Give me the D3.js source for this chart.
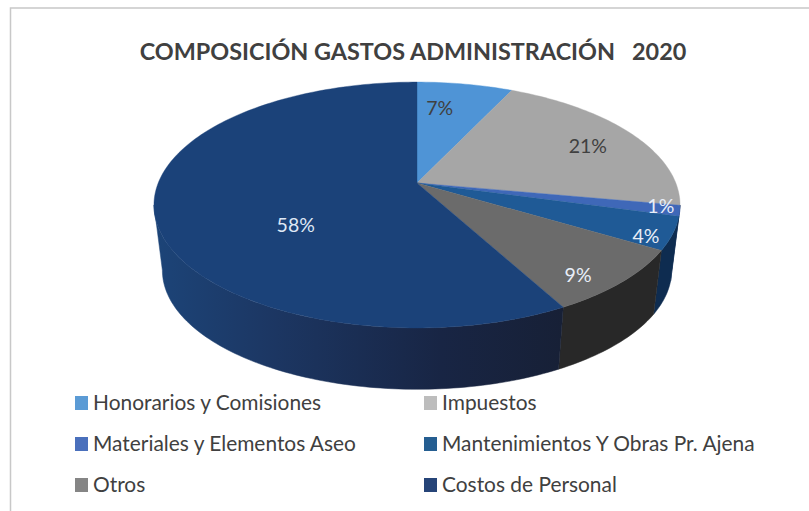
<!DOCTYPE html>
<html>
<head>
<meta charset="utf-8">
<script src="https://cdn.jsdelivr.net/npm/d3@7"></script>
<style>
  html, body { margin: 0; padding: 0; background: #fff; }
  svg { display: block; }
  text { font-family: Lato, "Open Sans", sans-serif; }
</style>
</head>
<body>
<script>
// gastos data
var categories = ["Honorarios y Comisiones", "Impuestos", "Materiales y Elementos Aseo",
                  "Mantenimientos Y Obras Pr. Ajena", "Otros", "Costos de Personal"];
var values = [7.0, 20.9, 1.4, 4.3, 8.5, 57.9];
var faceColors = ["#4f94d6", "#a6a6a6", "#3f68b8", "#1f5a96", "#6b6b6b", "#1b4279"];
var sideColors = ["#2c5a85", "#666666", "#27406f", "#0e2c50", "#282828", "#1a2a4c"];
var legendColors = ["#5b9bd5", "#bdbdbd", "#4a70bc", "#255e91", "#858585", "#264478"];
var labelColors = ["#404040", "#404040", "#e8eef8", "#e8eef8", "#e8eef8", "#dfe8f5"];

var w = 809, h = 511;

var svg = d3.select("body").append("svg")
    .attr("width", w)
    .attr("height", h);

// frame, open on the right
svg.append("path")
    .attr("d", "M10.5,511V8H809")
    .attr("fill", "none")
    .attr("stroke", "#c8c8c8")
    .attr("stroke-width", 1.5);

// title
svg.append("text")
    .attr("x", 413)
    .attr("y", 60)
    .attr("text-anchor", "middle")
    .attr("font-size", 23.4)
    .attr("font-weight", 700)
    .attr("fill", "#404040")
    .style("white-space", "pre")
    .text("COMPOSICIÓN GASTOS ADMINISTRACIÓN   2020");

// perspective disc: X,Y on unit circle -> screen
var cx = 417, cy = 183, A = 258.8, B = 119, p = 0.1789;
function project(a, r, bottom){
    var X = r * Math.sin(a), Y = r * Math.cos(a), den = 1 + p * Y;
    var sx = A * X / den, sy = -B * Y / den;
    if (bottom) {
        return [cx + sx * 0.968, cy + 66 + sy * 0.968];
    }
    return [cx + sx, cy + sy];
}

var pie = d3.pie().sort(null).value(function(d){ return d; });
var arcs = pie(values);
var line = d3.line();

function angles(a0, a1){
    var n = Math.max(2, Math.ceil((a1 - a0) / 0.02));
    return d3.range(n + 1).map(function(i){ return a0 + (a1 - a0) * i / n; });
}

// gradient for the big side wall
var defs = svg.append("defs");
var grad = defs.append("linearGradient")
    .attr("id", "sideGrad")
    .attr("gradientUnits", "userSpaceOnUse")
    .attr("x1", 154).attr("x2", 565).attr("y1", 0).attr("y2", 0);
grad.append("stop").attr("offset", 0).attr("stop-color", "#1c4478");
grad.append("stop").attr("offset", 0.3).attr("stop-color", "#1c3662");
grad.append("stop").attr("offset", 0.7).attr("stop-color", "#182544");
grad.append("stop").attr("offset", 1).attr("stop-color", "#172036");

// side walls, only the front half shows
var edge = Math.asin(p);
var walls = svg.append("g");
arcs.forEach(function(d, i){
    var a0 = Math.max(d.startAngle, Math.PI * 0.5 + edge);
    var a1 = Math.min(d.endAngle, Math.PI * 1.5 - edge);
    if (a1 <= a0) return;
    var as = angles(a0, a1);
    var top = as.map(function(a){ return project(a, 1, false); });
    var bot = as.map(function(a){ return project(a, 1, true); }).reverse();
    walls.append("path")
        .attr("d", line(top.concat(bot)) + "Z")
        .attr("fill", i === 5 ? "url(#sideGrad)" : sideColors[i])
        .attr("stroke", i === 5 ? "url(#sideGrad)" : sideColors[i])
        .attr("stroke-width", 0.5);
});

// top face
var faces = svg.append("g");
arcs.forEach(function(d, i){
    var pts = [project(0, 0, false)].concat(angles(d.startAngle, d.endAngle).map(function(a){
        return project(a, 1, false);
    }));
    faces.append("path")
        .attr("d", line(pts) + "Z")
        .attr("fill", faceColors[i])
        .attr("stroke", faceColors[i])
        .attr("stroke-width", 0.4);
});

// percent labels
var labelR = [0.8, 0.78, 0.96, 0.92, 0.72, 0.5];
var labelNudge = [[-17, 7], [2, 3], [-8, -4], [-5, 7], [19, 24], [7, 27]];
svg.append("g").selectAll("text")
    .data(arcs)
    .enter()
    .append("text")
    .attr("text-anchor", "middle")
    .attr("font-size", 19.5)
    .attr("fill", function(d, i){ return labelColors[i]; })
    .attr("transform", function(d, i){
        var mid = (d.startAngle + d.endAngle) / 2;
        var q = project(mid, labelR[i], false);
        return "translate(" + (q[0] + labelNudge[i][0]) + "," + (q[1] + 7 + labelNudge[i][1]) + ")";
    })
    .text(function(d){ return Math.round(d.data) + "%"; });

// legend, two columns three rows
var colX = d3.scaleOrdinal().domain([0, 1]).range([75, 424]);
var rowY = d3.scalePoint().domain([0, 1, 2]).range([403, 485]);
var legend = svg.append("g").selectAll("g")
    .data(categories)
    .enter()
    .append("g")
    .attr("transform", function(d, i){
        return "translate(" + colX(i % 2) + "," + rowY(Math.floor(i / 2)) + ")";
    });
legend.append("rect")
    .attr("y", -7)
    .attr("width", 13)
    .attr("height", 14)
    .attr("fill", function(d, i){ return legendColors[i]; });
legend.append("text")
    .attr("x", 18)
    .attr("y", 7)
    .attr("font-size", 20.9)
    .attr("fill", "#404040")
    .text(function(d){ return d; });
</script>
</body>
</html>
